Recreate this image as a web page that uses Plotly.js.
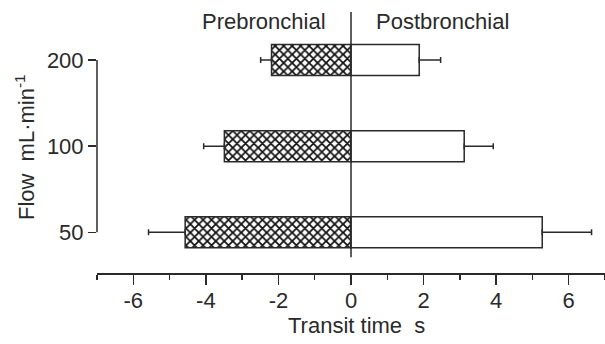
<!DOCTYPE html>
<html>
<head>
<meta charset="utf-8">
<script src="https://cdn.plot.ly/plotly-3.0.1.min.js"></script>
<style>html,body{margin:0;padding:0;background:#fff}#chart{width:605px;height:344px}</style>
</head>
<body>
<div id="chart"></div>
<script>
// Data
const flows = ['50', '100', '200'];            // Flow mL·min-1
const preTransit = [-4.57, -3.49, -2.19];       // Prebronchial transit time (s)
const preErr = [1.01, 0.57, 0.30];
const postTransit = [5.27, 3.12, 1.88];         // Postbronchial transit time (s)
const postErr = [1.36, 0.80, 0.59];
const xTicks = [-6, -4, -2, 0, 2, 4, 6];
const xMinorTicks = [-7, -5, -3, -1, 1, 3, 5, 7];

const yIdx = flows.map((_, i) => i);
const FONT = '"Liberation Sans", Arial, Helvetica, sans-serif';
const FS = 22;
const INK = '#2a2a2a';
const yRange = [-0.473, 2.558];

const pre = {
  type: 'bar', orientation: 'h', name: 'Prebronchial',
  y: yIdx, x: preTransit, width: 0.36,
  marker: {
    color: '#ffffff',
    line: {color: INK, width: 1.5},
    pattern: {shape: 'x', size: 6, solidity: 0.5, fgcolor: '#111', bgcolor: '#ffffff', fillmode: 'replace'}
  },
  error_x: {type: 'data', symmetric: false, array: preErr.map(() => 0), arrayminus: preErr,
            color: INK, thickness: 1.5, width: 3},
  hoverinfo: 'skip'
};
const post = {
  type: 'bar', orientation: 'h', name: 'Postbronchial',
  y: yIdx, x: postTransit, width: 0.36,
  marker: {color: '#ffffff', line: {color: INK, width: 1.5}},
  error_x: {type: 'data', symmetric: false, array: postErr, arrayminus: postErr.map(() => 0),
            color: INK, thickness: 1.5, width: 3},
  hoverinfo: 'skip'
};

const layout = {
  width: 605, height: 344,
  margin: {l: 97, r: 0, t: 12, b: 71},
  paper_bgcolor: '#fff', plot_bgcolor: '#fff',
  showlegend: false,
  barmode: 'relative',
  font: {family: FONT, size: FS, color: INK},
  xaxis: {
    range: [-7, 7], tickmode: 'array', tickvals: xTicks, ticktext: xTicks.map(String),
    showgrid: false, zeroline: false, showline: true, linecolor: INK, linewidth: 1.5,
    ticks: 'outside', ticklen: 10, tickwidth: 1.5, tickcolor: INK, ticklabelstandoff: -3,
    minor: {tickvals: xMinorTicks, ticks: 'outside', ticklen: 5, tickwidth: 1.5, tickcolor: INK, showgrid: false},
    tickfont: {family: FONT, size: FS, color: INK}
  },
  yaxis: {
    range: yRange, tickmode: 'array', tickvals: yIdx, ticktext: flows,
    showgrid: false, zeroline: false, showline: false,
    ticks: 'outside', ticklen: 8, tickwidth: 1.5, tickcolor: INK,
    tickfont: {family: FONT, size: FS, color: INK}
  },
  shapes: [
    {type: 'line', xref: 'paper', yref: 'y', x0: 0, x1: 0, y0: yIdx[0], y1: yIdx[yIdx.length - 1],
     line: {color: INK, width: 1.5}},
    {type: 'line', xref: 'x', yref: 'y', x0: 0, x1: 0, y0: -0.29, y1: yRange[1],
     line: {color: INK, width: 1.5}}
  ],
  annotations: [
    {text: 'Prebronchial', xref: 'paper', yref: 'paper', x: 0.329, y: 0.962, xanchor: 'center', yanchor: 'middle',
     showarrow: false, font: {family: FONT, size: FS, color: INK}},
    {text: 'Postbronchial', xref: 'paper', yref: 'paper', x: 0.681, y: 0.962, xanchor: 'center', yanchor: 'middle',
     showarrow: false, font: {family: FONT, size: FS, color: INK}},
    {text: 'Transit time\u00a0\u00a0s', xref: 'paper', yref: 'paper', x: 0.511, y: -0.203, xanchor: 'center', yanchor: 'middle',
     showarrow: false, font: {family: FONT, size: FS, color: INK}},
    {text: 'Flow\u00a0\u00a0mL\u00b7min<sup>-1</sup>', xref: 'paper', yref: 'paper', x: -0.142, y: 0.482,
     xanchor: 'center', yanchor: 'middle', textangle: -90,
     showarrow: false, font: {family: FONT, size: FS, color: INK}}
  ]
};

Plotly.newPlot('chart', [pre, post], layout, {staticPlot: true, displayModeBar: false});
</script>
</body>
</html>
